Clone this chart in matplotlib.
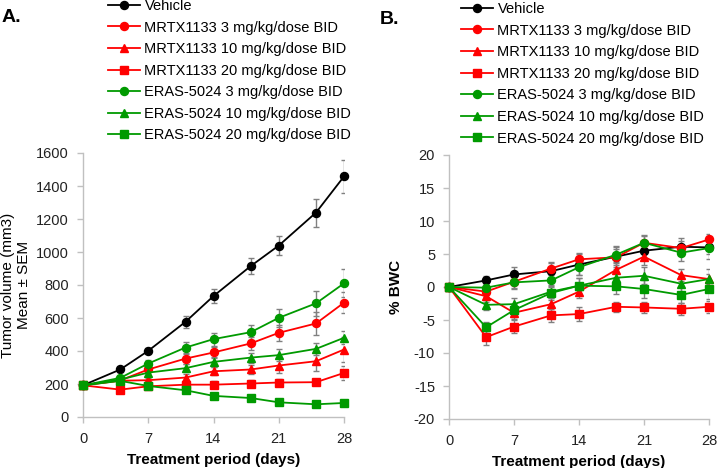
import matplotlib
matplotlib.use("Agg")
import matplotlib.pyplot as plt
import numpy as np

plt.rcParams['font.family'] = ['Liberation Sans', 'DejaVu Sans']
plt.rcParams['axes.unicode_minus'] = False

days = [0, 4, 7, 11, 14, 18, 21, 25, 28]

series_names = [
    "Vehicle",
    "MRTX1133 3 mg/kg/dose BID",
    "MRTX1133 10 mg/kg/dose BID",
    "MRTX1133 20 mg/kg/dose BID",
    "ERAS-5024 3 mg/kg/dose BID",
    "ERAS-5024 10 mg/kg/dose BID",
    "ERAS-5024 20 mg/kg/dose BID",
]
series_colors = ["black", "#ff0000", "#ff0000", "#ff0000", "#009a00", "#009a00", "#009a00"]
series_markers = ["o", "o", "^", "s", "o", "^", "s"]

# Panel A: tumor volume (mm3), mean and SEM
tv_vehicle = [192, 288, 401, 577, 733, 915, 1039, 1239, 1458]
tv_mrtx3 = [192, 222, 288, 354, 391, 446, 510, 567, 693]
tv_mrtx10 = [192, 220, 223, 239, 277, 288, 312, 338, 409]
tv_mrtx20 = [192, 166, 186, 196, 196, 203, 209, 211, 267]
tv_eras3 = [192, 237, 324, 421, 472, 514, 601, 689, 810]
tv_eras10 = [192, 227, 269, 296, 334, 360, 375, 413, 480]
tv_eras20 = [192, 219, 188, 162, 128, 115, 89, 77, 85]

tv_err_vehicle = [0, 15, 15, 35, 45, 50, 55, 85, 100]
tv_err_mrtx3 = [0, 12, 15, 30, 35, 40, 50, 70, 65]
tv_err_mrtx10 = [0, 12, 15, 20, 25, 30, 45, 60, 75]
tv_err_mrtx20 = [0, 12, 15, 15, 20, 20, 20, 20, 45]
tv_err_eras3 = [0, 12, 20, 35, 40, 45, 55, 75, 85]
tv_err_eras10 = [0, 12, 20, 25, 30, 30, 35, 35, 40]
tv_err_eras20 = [0, 10, 12, 15, 15, 15, 15, 12, 12]

# Panel B: % body weight change, mean and SEM
bw_vehicle = [0, 1.0, 1.9, 2.4, 3.4, 4.6, 5.5, 6.1, 6.0]
bw_mrtx3 = [0, -0.7, 0.8, 2.8, 4.2, 4.5, 6.7, 5.9, 7.2]
bw_mrtx10 = [0, -1.4, -3.9, -2.6, -0.7, 2.6, 4.6, 1.8, 1.2]
bw_mrtx20 = [0, -7.6, -6.0, -4.3, -4.1, -3.0, -3.1, -3.3, -3.0]
bw_eras3 = [0, -0.1, 0.7, 1.0, 3.0, 4.9, 6.7, 5.2, 5.9]
bw_eras10 = [0, -2.7, -2.6, -0.7, 0.2, 1.4, 1.7, 0.5, 1.2]
bw_eras20 = [0, -6.1, -3.5, -0.9, 0.2, 0.1, -0.3, -1.2, -0.3]

bw_err_vehicle = [0, 0.6, 1.2, 1.2, 1.6, 1.6, 1.2, 1.3, 1.0]
bw_err_mrtx3 = [0, 0.8, 1.0, 1.0, 1.0, 1.2, 1.0, 1.0, 0.8]
bw_err_mrtx10 = [0, 0.8, 1.0, 1.0, 1.0, 1.2, 1.2, 0.9, 0.8]
bw_err_mrtx20 = [0, 1.2, 1.0, 1.0, 1.1, 0.8, 0.9, 0.9, 0.9]
bw_err_eras3 = [0, 0.8, 1.0, 1.0, 1.2, 1.2, 1.2, 1.2, 1.6]
bw_err_eras10 = [0, 0.8, 1.0, 1.0, 1.2, 1.4, 1.3, 1.2, 1.5]
bw_err_eras20 = [0, 0.8, 1.0, 1.0, 1.2, 1.2, 1.4, 1.2, 1.5]

tv_means = [tv_vehicle, tv_mrtx3, tv_mrtx10, tv_mrtx20, tv_eras3, tv_eras10, tv_eras20]
tv_errs = [tv_err_vehicle, tv_err_mrtx3, tv_err_mrtx10, tv_err_mrtx20,
           tv_err_eras3, tv_err_eras10, tv_err_eras20]
bw_means = [bw_vehicle, bw_mrtx3, bw_mrtx10, bw_mrtx20, bw_eras3, bw_eras10, bw_eras20]
bw_errs = [bw_err_vehicle, bw_err_mrtx3, bw_err_mrtx10, bw_err_mrtx20,
           bw_err_eras3, bw_err_eras10, bw_err_eras20]

W, H = 718, 468
fig = plt.figure(figsize=(W / 100, H / 100), dpi=100)


def px_axes(x0, x1, ytop, ybot):
    return fig.add_axes([x0 / W, 1 - ybot / H, (x1 - x0) / W, (ybot - ytop) / H])


def draw_panel(ax, means, errs):
    handles = []
    for m, e, c, mk, name in zip(means, errs, series_colors, series_markers, series_names):
        ax.errorbar(days, m, yerr=e, fmt='none', ecolor='#808080', elinewidth=1,
                    capsize=2.5, capthick=1, zorder=2)
        h, = ax.plot(days, m, color=c, marker=mk, markersize=5.8, lw=1.3,
                     label=name, zorder=3, clip_on=False)
        handles.append(h)
    ax.set_xlim(0, 28)
    ax.set_xticks([0, 7, 14, 21, 28])
    for s in ['top', 'right']:
        ax.spines[s].set_visible(False)
    for s in ['left', 'bottom']:
        ax.spines[s].set_color('#c0c0c0')
        ax.spines[s].set_linewidth(1.0)
    ax.tick_params(axis='both', colors='#c0c0c0', labelcolor='#222222',
                   labelsize=10.5, length=4, width=1)
    ax.tick_params(axis='x', pad=7)
    ax.tick_params(axis='y', pad=6)
    ax.set_xlabel("Treatment period (days)", fontsize=11, fontweight='bold', labelpad=5)
    return handles


# Panel A
axA = px_axes(83, 344, 153, 417)
hA = draw_panel(axA, tv_means, tv_errs)
axA.set_ylim(0, 1600)
axA.set_yticks(np.arange(0, 1601, 200))
axA.set_ylabel("Tumor volume (mm3)\nMean \u00b1 SEM", fontsize=11, linespacing=1.15)

# Panel B
axB = px_axes(449, 709, 155, 419)
hB = draw_panel(axB, bw_means, bw_errs)
axB.set_ylim(-20, 20)
axB.set_yticks(np.arange(-20, 21, 5))
axB.set_ylabel("% BWC", fontsize=11, fontweight='bold', labelpad=8)

for handles, x0, y0 in [(hA, 108, -1), (hB, 461, 2)]:
    fig.legend(handles=handles, loc='upper left',
               bbox_to_anchor=(x0 / W, 1 - y0 / H), frameon=False,
               fontsize=10.5, handlelength=2.2, handletextpad=0.3,
               labelspacing=0.52, borderaxespad=0, borderpad=0)

fig.text(2 / W, 1 - 22 / H, "A.", fontsize=14, fontweight='bold')
fig.text(380 / W, 1 - 24 / H, "B.", fontsize=14, fontweight='bold')

fig.savefig("out.png", dpi=100)
